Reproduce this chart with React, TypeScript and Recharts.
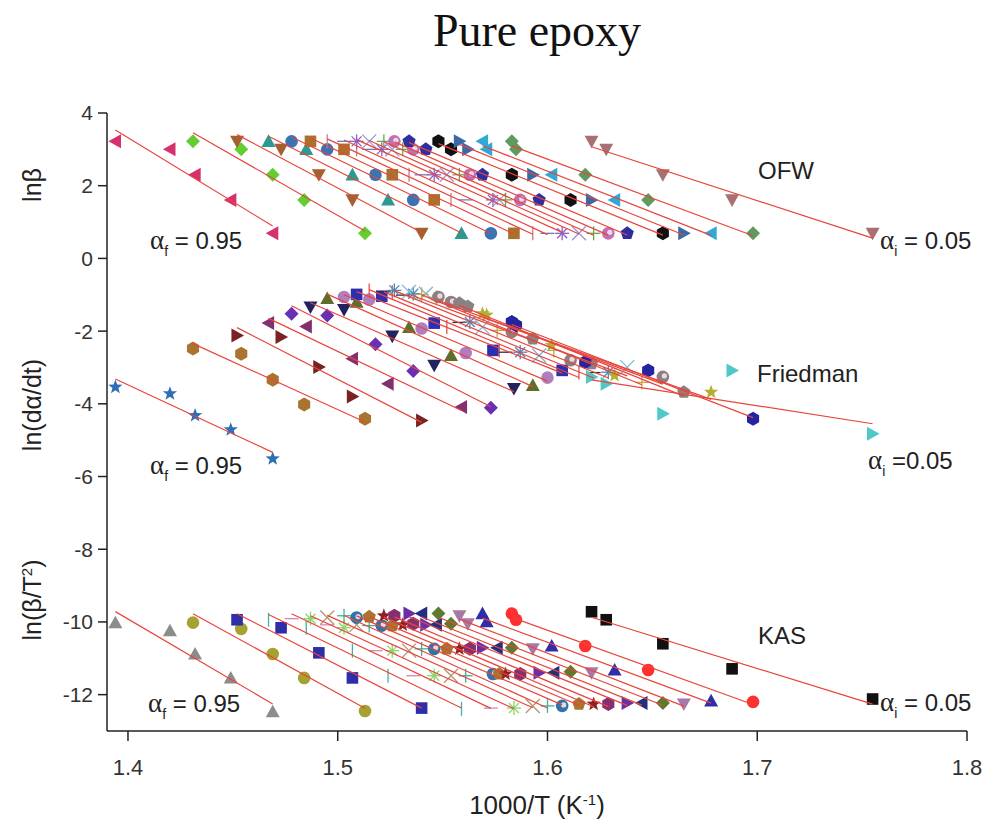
import React from 'react';
import { ScatterChart, Scatter, XAxis, YAxis } from 'recharts';

// 1000/T (K^-1) for each conversion level (rows, alpha_f = 0.95 first ... alpha_i = 0.05 last)
// columns: heating rate 25, 20, 10, 5, 2 K/min
const invT: number[][] = [
  [1.394, 1.420, 1.432, 1.449, 1.469],
  [1.431, 1.454, 1.469, 1.484, 1.513],
  [1.452, 1.473, 1.491, 1.507, 1.540],
  [1.467, 1.485, 1.507, 1.524, 1.559],
  [1.478, 1.495, 1.518, 1.536, 1.573],
  [1.487, 1.503, 1.526, 1.546, 1.584],
  [1.495, 1.509, 1.534, 1.554, 1.593],
  [1.503, 1.515, 1.540, 1.561, 1.600],
  [1.509, 1.521, 1.546, 1.574, 1.607],
  [1.515, 1.526, 1.552, 1.577, 1.615],
  [1.522, 1.531, 1.558, 1.580, 1.622],
  [1.527, 1.536, 1.563, 1.587, 1.629],
  [1.534, 1.542, 1.569, 1.596, 1.638],
  [1.540, 1.547, 1.576, 1.603, 1.645],
  [1.548, 1.554, 1.583, 1.611, 1.655],
  [1.558, 1.562, 1.593, 1.621, 1.665],
  [1.569, 1.571, 1.602, 1.632, 1.678],
  [1.583, 1.585, 1.618, 1.648, 1.698],
  [1.621, 1.628, 1.655, 1.688, 1.755],
];

// OFW: ln(beta) rows
const lnBeta = [3.22, 3.0, 2.3, 1.61, 0.69];

// Friedman: ln(dα/dt)
const friedmanY: number[][] = [
  [-3.54, -3.72, -4.32, -4.71, -5.51],
  [-2.48, -2.62, -3.34, -4.02, -4.41],
  [-2.12, -2.16, -2.99, -3.80, -4.46],
  [-1.78, -1.87, -2.76, -3.45, -4.09],
  [-1.52, -1.57, -2.36, -3.10, -4.11],
  [-1.34, -1.41, -2.14, -2.94, -3.58],
  [-1.10, -1.20, -1.90, -2.67, -3.49],
  [-1.06, -1.13, -1.93, -2.60, -3.28],
  [-0.99, -1.04, -1.78, -2.53, -3.08],
  [-0.88, -0.93, -1.89, -2.53, -3.14],
  [-0.92, -1.01, -1.76, -2.58, -3.14],
  [-0.88, -0.97, -1.75, -2.58, -3.13],
  [-0.92, -0.97, -1.89, -2.67, -2.99],
  [-0.99, -1.07, -1.98, -2.53, -3.41],
  [-1.06, -1.20, -2.02, -2.80, -3.26],
  [-1.23, -1.32, -2.21, -2.89, -3.68],
  [-1.52, -1.56, -2.39, -3.22, -3.68],
  [-1.75, -1.84, -2.85, -3.08, -4.41],
  [-3.26, -3.45, -4.27, -3.08, -4.82],
];

// KAS: ln(beta/T^2)
const kasY: number[][] = [
  [-10.02, -10.24, -10.88, -11.54, -12.47],
  [-10.02, -10.19, -10.88, -11.54, -12.45],
  [-9.94, -10.16, -10.85, -11.54, -12.37],
  [-9.94, -10.16, -10.79, -11.48, -12.39],
  [-9.91, -10.08, -10.79, -11.48, -12.37],
  [-9.91, -10.16, -10.79, -11.48, -12.37],
  [-9.88, -10.08, -10.79, -11.48, -12.31],
  [-9.83, -10.10, -10.74, -11.48, -12.31],
  [-9.88, -10.10, -10.74, -11.43, -12.31],
  [-9.86, -10.10, -10.74, -11.43, -12.26],
  [-9.83, -10.08, -10.74, -11.43, -12.26],
  [-9.83, -10.05, -10.74, -11.43, -12.26],
  [-9.77, -10.08, -10.71, -11.40, -12.23],
  [-9.77, -10.08, -10.71, -11.40, -12.23],
  [-9.77, -10.05, -10.71, -11.37, -12.23],
  [-9.83, -10.05, -10.74, -11.40, -12.26],
  [-9.77, -9.99, -10.66, -11.32, -12.17],
  [-9.77, -9.94, -10.66, -11.32, -12.20],
  [-9.72, -9.94, -10.60, -11.29, -12.12],
];

const xTicks = [1.4, 1.5, 1.6, 1.7, 1.8];
const yTicks = [-12, -10, -8, -6, -4, -2, 0, 2, 4];

type Mark = [string, string] | null;

// one marker per alpha row (null = not plotted in that panel)
const ofwMarks: Mark[] = [
  ['tl', '#d6306e'], ['d', '#66cc33'], ['td', '#a5602f'], ['tu', '#2a9a92'], ['c', '#3a74b4'],
  ['s', '#a8722c'], ['v', '#d07a8a'], ['h', '#6a7cc8'], ['ast', '#8a62c8'], ['x', '#9a96d8'],
  ['p', '#6aa84a'], ['cd', '#c070b0'], ['pent', '#2e2ea0'], null, ['hex', '#111111'],
  ['tr', '#3a6aa6'], ['tl', '#30a8d8'], ['d', '#5f9a5f'], ['td', '#a87070'],
];
const friedmanMarks: Mark[] = [
  ['star', '#2e6eb4'], ['hex', '#a8742e'], ['tr', '#7a2222'], ['tl', '#84306e'], ['d', '#6a30b4'],
  ['td', '#22225e'], ['tu', '#5e6e2a'], ['c', '#b07ec0'], ['s', '#2e2eb0'], ['v', '#e85050'],
  ['h', '#3a2a3a'], ['ast', '#4a88b8'], ['x', '#78b8d8'], ['p', '#c4a84a'], ['cd', '#8e7e7e'],
  ['pent', '#8a8282'], ['star', '#b4b030'], ['hex', '#2424a0'], ['tr', '#50c8c8'],
];
const kasMarks: Mark[] = [
  ['tu', '#8c8c8c'], ['c', '#a6a232'], ['s', '#2e2ea8'], ['v', '#3cb4a4'], ['h', '#d884b4'],
  ['ast', '#86d66a'], ['x', '#b49672'], ['p', '#3cb49a'], ['cd', '#2e74a8'], ['pent', '#a8742e'],
  ['star', '#8e2222'], ['hex', '#84306e'], ['tr', '#6a2ea8'], ['tl', '#22307e'], ['d', '#5e7a2e'],
  ['td', '#a878a8'], ['tu', '#2e2ea8'], ['c', '#ff3030'], ['s', '#111111'],
];

const FIT = '#e8453c';

function poly(cx: number, cy: number, r: number, n: number, rot: number) {
  const pts: string[] = [];
  for (let i = 0; i < n; i++) {
    const a = rot + (i * 2 * Math.PI) / n;
    pts.push(`${cx + r * Math.cos(a)},${cy + r * Math.sin(a)}`);
  }
  return pts.join(' ');
}

function Marker({ cx, cy, kind, color }: { cx: number; cy: number; kind: string; color: string }) {
  const r = 7;
  const sw = 1.3;
  switch (kind) {
    case 'tl':
      return <polygon points={`${cx - r},${cy} ${cx + r * 0.8},${cy - r} ${cx + r * 0.8},${cy + r}`} fill={color} />;
    case 'tr':
      return <polygon points={`${cx + r},${cy} ${cx - r * 0.8},${cy - r} ${cx - r * 0.8},${cy + r}`} fill={color} />;
    case 'tu':
      return <polygon points={`${cx},${cy - r} ${cx - r},${cy + r * 0.8} ${cx + r},${cy + r * 0.8}`} fill={color} />;
    case 'td':
      return <polygon points={`${cx},${cy + r} ${cx - r},${cy - r * 0.8} ${cx + r},${cy - r * 0.8}`} fill={color} />;
    case 'd':
      return <polygon points={`${cx},${cy - r} ${cx + r},${cy} ${cx},${cy + r} ${cx - r},${cy}`} fill={color} />;
    case 'c':
      return <circle cx={cx} cy={cy} r={6.3} fill={color} />;
    case 'cd':
      return (
        <g>
          <circle cx={cx} cy={cy} r={6.3} fill={color} />
          <circle cx={cx + 1.5} cy={cy - 1} r={2.6} fill="#e8d8e8" />
        </g>
      );
    case 's':
      return <rect x={cx - 5.8} y={cy - 5.8} width={11.6} height={11.6} fill={color} />;
    case 'v':
      return <line x1={cx} y1={cy - r} x2={cx} y2={cy + r} stroke={color} strokeWidth={sw} />;
    case 'h':
      return <line x1={cx - r} y1={cy} x2={cx + r} y2={cy} stroke={color} strokeWidth={sw} />;
    case 'p':
      return (
        <g stroke={color} strokeWidth={sw}>
          <line x1={cx} y1={cy - r} x2={cx} y2={cy + r} />
          <line x1={cx - r} y1={cy} x2={cx + r} y2={cy} />
        </g>
      );
    case 'x':
      return (
        <g stroke={color} strokeWidth={sw}>
          <line x1={cx - r} y1={cy - r} x2={cx + r} y2={cy + r} />
          <line x1={cx - r} y1={cy + r} x2={cx + r} y2={cy - r} />
        </g>
      );
    case 'ast':
      return (
        <g stroke={color} strokeWidth={sw}>
          <line x1={cx} y1={cy - r} x2={cx} y2={cy + r} />
          <line x1={cx - r} y1={cy} x2={cx + r} y2={cy} />
          <line x1={cx - 5} y1={cy - 5} x2={cx + 5} y2={cy + 5} />
          <line x1={cx - 5} y1={cy + 5} x2={cx + 5} y2={cy - 5} />
        </g>
      );
    case 'pent':
      return <polygon points={poly(cx, cy, 7, 5, -Math.PI / 2)} fill={color} />;
    case 'hex':
      return <polygon points={poly(cx, cy, 7, 6, -Math.PI / 2)} fill={color} />;
    case 'star': {
      const pts: string[] = [];
      for (let i = 0; i < 10; i++) {
        const rr = i % 2 === 0 ? 7.5 : 3.1;
        const a = -Math.PI / 2 + (i * Math.PI) / 5;
        pts.push(`${cx + rr * Math.cos(a)},${cy + rr * Math.sin(a)}`);
      }
      return <polygon points={pts.join(' ')} fill={color} />;
    }
    default:
      return <g />;
  }
}

// least-squares line over the range of the points
function fit(xs: number[], ys: number[]) {
  const n = xs.length;
  const mx = xs.reduce((a, b) => a + b, 0) / n;
  const my = ys.reduce((a, b) => a + b, 0) / n;
  let sxy = 0, sxx = 0;
  for (let i = 0; i < n; i++) {
    sxy += (xs[i] - mx) * (ys[i] - my);
    sxx += (xs[i] - mx) ** 2;
  }
  const b = sxy / sxx;
  const x0 = Math.min(...xs), x1 = Math.max(...xs);
  return [{ x: x0, y: my + b * (x0 - mx) }, { x: x1, y: my + b * (x1 - mx) }];
}

const panels = [
  { id: 'ofw', marks: ofwMarks, ys: (_i: number) => lnBeta },
  { id: 'fr', marks: friedmanMarks, ys: (i: number) => friedmanY[i] },
  { id: 'kas', marks: kasMarks, ys: (i: number) => kasY[i] },
];

const series: { key: string; pts: { x: number; y: number }[]; kind: string; color: string }[] = [];
const fits: { key: string; seg: { x: number; y: number }[] }[] = [];
panels.forEach(p => {
  p.marks.forEach((m, i) => {
    if (!m) return;
    const ys = p.ys(i);
    const pts = invT[i].map((x, j) => ({ x, y: ys[j] }));
    series.push({ key: `${p.id}-${i}`, pts, kind: m[0], color: m[1] });
    fits.push({ key: `${p.id}-fit-${i}`, seg: fit(invT[i], ys) });
  });
});

const sans = '"Liberation Sans", Arial, sans-serif';
const serif = '"Liberation Serif", "Times New Roman", serif';

function Txt({ x, y, children, size = 24 }: { x: number; y: number; children: React.ReactNode; size?: number }) {
  return (
    <div style={{
      position: 'absolute', left: x, top: y, transform: 'translateY(-50%)',
      fontFamily: sans, fontSize: size, color: '#222', whiteSpace: 'nowrap', lineHeight: 1,
    }}>{children}</div>
  );
}

function Alpha({ sub, value }: { sub: string; value: string }) {
  return (
    <>
      <span style={{ fontFamily: serif, fontSize: 27 }}>α</span>
      <span style={{ fontSize: 14, position: 'relative', top: 7 }}>{sub}</span>
      <span>{value}</span>
    </>
  );
}

function VLabel({ x, y, children }: { x: number; y: number; children: React.ReactNode }) {
  return (
    <div style={{
      position: 'absolute', left: x, top: y, transform: 'translate(-50%, -50%) rotate(-90deg)',
      fontFamily: sans, fontSize: 25, color: '#222', whiteSpace: 'nowrap', lineHeight: 1,
    }}>{children}</div>
  );
}

export default function App() {
  return (
    <div style={{ position: 'absolute', left: 0, top: 0, width: 985, height: 828, background: '#fff' }}>
      <ScatterChart width={985} height={828} margin={{ top: 113, right: 18, bottom: 57, left: 47 }}>
        <XAxis
          type="number" dataKey="x" domain={[1.39, 1.8]} ticks={xTicks} interval={0}
          height={40} tickSize={10} tickMargin={18}
          axisLine={{ stroke: '#222', strokeWidth: 1.5 }} tickLine={{ stroke: '#222', strokeWidth: 1.5 }}
          tick={{ fontSize: 22, fill: '#333', fontFamily: sans }}
          tickFormatter={(v: number) => v.toFixed(1)}
        />
        <YAxis
          type="number" dataKey="y" domain={[-13, 4]} ticks={yTicks} interval={0}
          width={60} tickSize={9} tickMargin={5}
          axisLine={{ stroke: '#222', strokeWidth: 1.5 }} tickLine={{ stroke: '#222', strokeWidth: 1.5 }}
          tick={{ fontSize: 21, fill: '#333', fontFamily: sans }}
        />
        {series.map(s => (
          <Scatter
            key={s.key}
            data={s.pts}
            isAnimationActive={false}
            legendType="none"
            shape={(p: any) => <Marker cx={p.cx} cy={p.cy} kind={s.kind} color={s.color} />}
          />
        ))}
        {fits.map(f => (
          <Scatter
            key={f.key}
            data={f.seg}
            isAnimationActive={false}
            legendType="none"
            line={{ stroke: FIT, strokeWidth: 1.2 }}
            shape={() => <g />}
          />
        ))}
      </ScatterChart>

      <div style={{
        position: 'absolute', left: 537, top: 31, transform: 'translate(-50%, -50%)',
        fontFamily: serif, fontSize: 46, color: '#111', whiteSpace: 'nowrap', lineHeight: 1,
      }}>Pure epoxy</div>

      <Txt x={758} y={171}>OFW</Txt>
      <Txt x={757} y={374}>Friedman</Txt>
      <Txt x={758} y={636}>KAS</Txt>

      <Txt x={150} y={240}><Alpha sub="f" value=" = 0.95" /></Txt>
      <Txt x={150} y={465}><Alpha sub="f" value=" = 0.95" /></Txt>
      <Txt x={148} y={703}><Alpha sub="f" value=" = 0.95" /></Txt>
      <Txt x={880} y={240}><Alpha sub="i" value=" = 0.05" /></Txt>
      <Txt x={868} y={460}><Alpha sub="i" value=" =0.05" /></Txt>
      <Txt x={880} y={702}><Alpha sub="i" value=" = 0.05" /></Txt>

      <VLabel x={32} y={185}>lnβ</VLabel>
      <VLabel x={32} y={405}>ln(dα/dt)</VLabel>
      <VLabel x={32} y={600}>ln(β/T<sup style={{ fontSize: 15 }}>2</sup>)</VLabel>

      <div style={{
        position: 'absolute', left: 537, top: 805, transform: 'translate(-50%, -50%)',
        fontFamily: sans, fontSize: 26, color: '#222', whiteSpace: 'nowrap', lineHeight: 1,
      }}>1000/T (K<sup style={{ fontSize: 15 }}>-1</sup>)</div>
    </div>
  );
}
